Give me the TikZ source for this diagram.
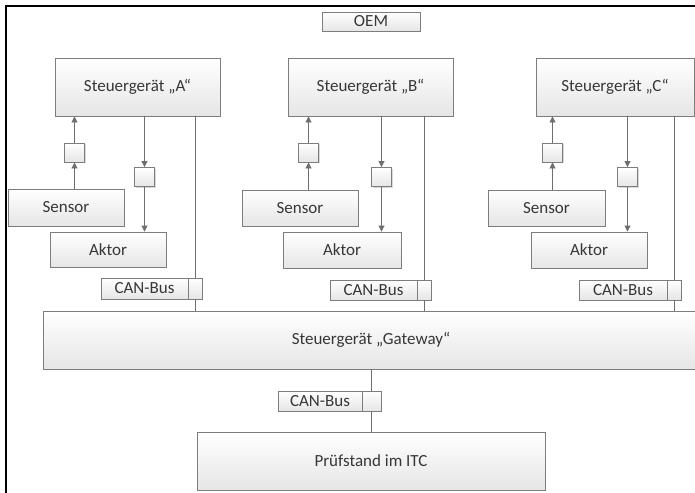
\documentclass[tikz,border=0pt]{standalone}
\usepackage{fontspec}
\setmainfont{Carlito}
\usetikzlibrary{shadows,arrows.meta}
\definecolor{bordergray}{RGB}{125,125,125}
\definecolor{linegray}{RGB}{110,110,110}
\definecolor{txtgray}{RGB}{55,55,55}
\tikzset{
  box/.style={draw=bordergray, line width=0.9pt, top color=white, bottom color=black!10,
    drop shadow={shadow xshift=1pt, shadow yshift=-1pt, opacity=0.25, fill=black!60},
    inner sep=0pt, text=txtgray, font=\fontsize{17}{20}\selectfont, anchor=center},
  sq/.style={box, minimum width=20pt, minimum height=19pt},
  conn/.style={draw=linegray, line width=0.9pt},
  arr/.style={conn, -{Triangle[length=6pt,width=6pt]}},
}
\begin{document}
\begin{tikzpicture}[x=1pt,y=-1pt]
\useasboundingbox (0,0) rectangle (695,492);
\fill[white] (0,0) rectangle (695,492);
\draw[black, line width=1.4pt] (6,6) rectangle (705,505);

% OEM
\node[box, minimum width=98pt, minimum height=19pt] (oem) at (371,21.5) {OEM};

% controllers
\node[box, minimum width=165pt, minimum height=58pt] (sgA) at (137.5,87) {Steuergerät „A“};
\node[box, minimum width=165pt, minimum height=58pt] (sgB) at (370.5,87) {Steuergerät „B“};
\node[box, minimum width=158pt, minimum height=58pt] (sgC) at (615,87) {Steuergerät „C“};

% sensors / actuators
\node[box, minimum width=116pt, minimum height=37pt] (senA) at (66,207.5) {Sensor};
\node[box, minimum width=116pt, minimum height=35pt] (aktA) at (108,249.5) {Aktor};
\node[box, minimum width=116pt, minimum height=36pt] (senB) at (300,208) {Sensor};
\node[box, minimum width=118pt, minimum height=36pt] (aktB) at (342,250) {Aktor};
\node[box, minimum width=117pt, minimum height=36pt] (senC) at (546.5,208) {Sensor};
\node[box, minimum width=116pt, minimum height=36pt] (aktC) at (589,250) {Aktor};

% small boxes
\node[sq] (upA) at (74.5,152.5) {};
\node[sq] (dnA) at (144.5,177) {};
\node[sq] (upB) at (308.5,152.5) {};
\node[sq] (dnB) at (381.5,177) {};
\node[sq] (upC) at (552.5,152.5) {};
\node[sq] (dnC) at (627.5,177) {};

% CAN-Bus boxes
\node[box, minimum width=87pt, minimum height=21pt] (canA) at (144.5,288.5) {CAN-Bus};
\node[box, minimum width=14pt, minimum height=21pt] (canAs) at (195,288.5) {};
\node[box, minimum width=87pt, minimum height=20pt] (canB) at (373.5,290) {CAN-Bus};
\node[box, minimum width=14pt, minimum height=20pt] (canBs) at (424,290) {};
\node[box, minimum width=88pt, minimum height=20pt] (canC) at (623,290) {CAN-Bus};
\node[box, minimum width=14pt, minimum height=20pt] (canCs) at (674,290) {};

% gateway
\node[box, minimum width=656pt, minimum height=58pt] (gw) at (371,340) {Steuergerät „Gateway“};

\node[box, minimum width=84pt, minimum height=20pt] (canG) at (320,401) {CAN-Bus};
\node[box, minimum width=19pt, minimum height=20pt] (canGs) at (371.5,401) {};

\node[box, minimum width=348pt, minimum height=58pt] (pst) at (371,461) {Prüfstand im ITC};

% arrows A
\draw[arr] (senA.north -| upA) -- (upA.south);
\draw[arr] (upA.north) -- (upA |- sgA.south);
\draw[arr] (dnA |- sgA.south) -- (dnA.north);
\draw[arr] (dnA.south) -- (dnA |- aktA.north);
% arrows B
\draw[arr] (senB.north -| upB) -- (upB.south);
\draw[arr] (upB.north) -- (upB |- sgB.south);
\draw[arr] (dnB |- sgB.south) -- (dnB.north);
\draw[arr] (dnB.south) -- (dnB |- aktB.north);
% arrows C
\draw[arr] (senC.north -| upC) -- (upC.south);
\draw[arr] (upC.north) -- (upC |- sgC.south);
\draw[arr] (dnC |- sgC.south) -- (dnC.north);
\draw[arr] (dnC.south) -- (dnC |- aktC.north);

% bus lines
\draw[conn] (canAs |- sgA.south) -- (canAs.north);
\draw[conn] (canAs.south) -- (canAs |- gw.north);
\draw[conn] (canBs |- sgB.south) -- (canBs.north);
\draw[conn] (canBs.south) -- (canBs |- gw.north);
\draw[conn] (canCs |- sgC.south) -- (canCs.north);
\draw[conn] (canCs.south) -- (canCs |- gw.north);
\draw[conn] (canGs |- gw.south) -- (canGs.north);
\draw[conn] (canGs.south) -- (canGs |- pst.north);
\end{tikzpicture}
\end{document}
